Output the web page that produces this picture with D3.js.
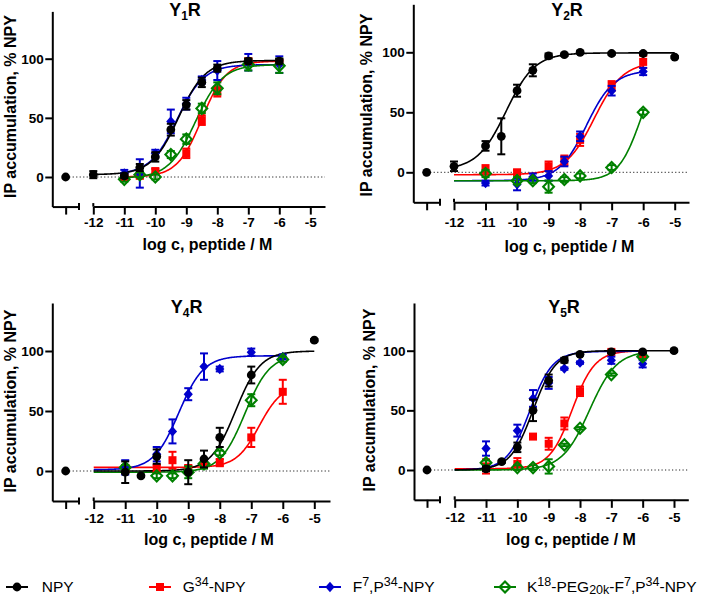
<!DOCTYPE html>
<html><head><meta charset="utf-8">
<script src="https://cdn.jsdelivr.net/npm/d3@7"></script>
<style>body{margin:0;background:#fff}svg{display:block}</style>
</head><body><svg id="chart" width="708" height="597"></svg>
<script>
// ---------- DATA ----------
const logTicks = [-12, -11, -10, -9, -8, -7, -6, -5];
const yTicks = [0, 50, 100];
const seriesNames = ["NPY", "G34-NPY", "F7,P34-NPY", "K18-PEG20k-F7,P34-NPY"];
const receptorTitles = [["Y", "1", "R"], ["Y", "2", "R"], ["Y", "4", "R"], ["Y", "5", "R"]];
const xAxisTitle = "log c, peptide / M";
const yAxisTitle = "IP accumulation, % NPY";

// points: [log c (M), % NPY, SEM] ; -13 = no peptide
const Y1R_NPY = [[-13,0,0],[-12,2,3],[-11,1,2],[-10.5,8,3],[-10,17,4],[-9.5,40,5],[-9,61,4],[-8.5,80,4],[-8,92,3],[-7,98,2],[-6,98,2]];
const Y1R_G34 = [[-11,0,2],[-10.5,1,2],[-10,5,2],[-9,20,4],[-8.5,48,4],[-8,72,4],[-7,98,2],[-6,97,2]];
const Y1R_F7  = [[-11,3,3],[-10.5,3,12],[-10,20,3],[-9.5,47,10],[-9,62,5],[-8.5,82,3],[-8,90,8],[-7,97,7],[-6,95,7]];
const Y1R_K18 = [[-11,-2,2],[-10.5,2,2],[-10,0,2],[-9.5,19,3],[-9,32,4],[-8.5,58,4],[-8,75,5],[-7,95,5],[-6,94,6]];

const Y2R_NPY = [[-13,0,0],[-12,5,4],[-11,22,4],[-10.5,30,15],[-10,68,5],[-9.5,85,5],[-9,97,2],[-8.5,98,1],[-8,100,1],[-7,99,1],[-6,99,1],[-5,96,1]];
const Y2R_G34 = [[-11,2,4],[-10,0,2],[-9,5,4],[-8.5,10,4],[-8,27,5],[-7,72,4],[-6,92,5]];
const Y2R_F7  = [[-11,-9,2],[-10,-10,5],[-9.5,-4,3],[-9,-3,4],[-8.5,9,4],[-8,30,4],[-7,68,4],[-6,84,3]];
const Y2R_K18 = [[-11,-1,3],[-10,-7,3],[-9.5,-7,2],[-9,-12,5],[-8.5,-6,2],[-8,-3,2],[-7,4,2],[-6,50,2]];

const Y4R_NPY = [[-13,0,0],[-11,-1,9],[-10.5,-4,1],[-10,12,6],[-9,-1,10],[-8.5,10,7],[-8,28,8],[-7,80,7],[-5,109,1]];
const Y4R_G34 = [[-11,2,3],[-10,2,3],[-9.5,9,7],[-9,2,3],[-8.5,5,2],[-8,7,3],[-7,28,8],[-6,66,10]];
const Y4R_F7  = [[-11,3,6],[-10,14,6],[-9.5,33,10],[-9,64,5],[-8.5,87,11],[-8,85,2],[-7,99,3],[-6,95,2]];
const Y4R_K18 = [[-11,3,2],[-10,-4,2],[-9.5,-4,2],[-9,-1,5],[-8.5,6,4],[-8,15,2],[-7,59,5],[-6,93,2]];

const Y5R_NPY = [[-13,0,0],[-11,1,2],[-10.5,7,1],[-10,19,4],[-9.5,50,9],[-9,75,5],[-8.5,92,2],[-8,97,1],[-7,99,1],[-6,99,1],[-5,100,1]];
const Y5R_G34 = [[-11,3,6],[-10,5,5],[-9.5,28,1],[-9,22,5],[-8.5,39,5],[-8,66,4],[-7,99,1],[-6,97,2]];
const Y5R_F7  = [[-11,18,6],[-10,33,5],[-9.5,60,7],[-9,73,5],[-8.5,85,1],[-8,90,1],[-7,92,3],[-6,89,3]];
const Y5R_K18 = [[-11,6,2],[-10,2,2],[-9.5,2,2],[-9,3,6],[-8.5,21,1],[-8,35,1],[-7,80,1],[-6,95,2]];

// fitted curves: [bottom, top, logEC50, Hill slope, from, to]  (order NPY, G34, F7, K18)
const Y1R_FITS = [[2,98.5,-9.25,1,-12,-6],[0,98,-8.5,1.1,-11,-6],[2,95,-9.3,1,-11,-6],[-1,95,-8.7,1,-11,-6]];
const Y2R_FITS = [[2,99.5,-10.35,0.95,-12,-5],[-2,92,-7.55,0.95,-12,-6],[-7,85,-7.8,1,-12,-6],[-7,100,-6.05,1.2,-12,-6]];
const Y4R_FITS = [[0,100,-7.5,1.1,-12,-5],[3,72,-6.75,1.2,-12,-6],[1,96,-9.3,1.1,-12,-6],[-1,97,-7.2,1.1,-12,-6]];
const Y5R_FITS = [[0,100,-9.5,1.2,-12,-5],[1,100,-8.25,1.2,-12,-6],[0,99.5,-9.6,1.2,-12,-6],[0,100,-7.7,1,-12,-6]];

const legendParts = [
  [["NPY",""]],
  [["G",""],["34","sup"],["-NPY",""]],
  [["F",""],["7","sup"],[",P",""],["34","sup"],["-NPY",""]],
  [["K",""],["18","sup"],["-PEG",""],["20k","sub"],["-F",""],["7","sup"],[",P",""],["34","sup"],["-NPY",""]]
];

// ---------- LAYOUT / STYLE ----------
const panelData = [
  {pts:[Y1R_NPY,Y1R_G34,Y1R_F7,Y1R_K18], fits:Y1R_FITS},
  {pts:[Y2R_NPY,Y2R_G34,Y2R_F7,Y2R_K18], fits:Y2R_FITS},
  {pts:[Y4R_NPY,Y4R_G34,Y4R_F7,Y4R_K18], fits:Y4R_FITS},
  {pts:[Y5R_NPY,Y5R_G34,Y5R_F7,Y5R_K18], fits:Y5R_FITS}
];
const layouts = [
  {ax:52.3, y0:177, y100:58.7, seg1End:79, x12:93.3, x5:310.3, axEnd:325, tickBase:227, xTitleX:207.5, xTitleBase:250, titleX:185, titleBase:16, yTitleX:16, yTitleY:106.5},
  {ax:413.3, y0:172.3, y100:52.3, seg1End:440, x12:454, x5:674.7, axEnd:689, tickBase:227, xTitleX:569.5, xTitleBase:252, titleX:567, titleBase:16, yTitleX:372, yTitleY:105},
  {ax:52.3, y0:471, y100:351, seg1End:79, x12:93.7, x5:314.3, axEnd:330, tickBase:522.7, xTitleX:209, xTitleBase:545, titleX:186.7, titleBase:312.7, yTitleX:15.5, yTitleY:401},
  {ax:414, y0:470, y100:350.7, seg1End:440, x12:454.7, x5:674, axEnd:688.3, tickBase:522.5, xTitleX:571, xTitleBase:545, titleX:564, titleBase:312.7, yTitleX:375, yTitleY:400}
];
const colors = ["#000000", "#ff0000", "#0000cc", "#008000"];
const drawOrder = [1, 2, 3, 0];
const FONT = "'Liberation Sans', Arial, Helvetica, sans-serif";

const svg = d3.select("#chart");

function marker(g, type, x, y) {
  const c = colors[type];
  if (type === 0) {
    g.append("circle").attr("cx", x).attr("cy", y).attr("r", 4.4).attr("fill", c);
  } else if (type === 1) {
    g.append("rect").attr("x", x - 4).attr("y", y - 4).attr("width", 8).attr("height", 8).attr("fill", c);
  } else if (type === 2) {
    g.append("path").attr("d", `M${x},${y-5.2}L${x+4.6},${y}L${x},${y+5.2}L${x-4.6},${y}Z`).attr("fill", c);
  } else {
    g.append("path").attr("d", `M${x},${y-5.6}L${x+5.4},${y}L${x},${y+5.6}L${x-5.4},${y}Z`)
      .attr("fill", "none").attr("stroke", c).attr("stroke-width", 2.1);
  }
}

function addRich(textSel, parts, baseSize, smallSize, supShift, subShift) {
  let shift = 0;
  parts.forEach(([t, kind]) => {
    const target = kind === "sup" ? -supShift : kind === "sub" ? subShift : 0;
    textSel.append("tspan").attr("dy", target - shift)
      .attr("font-size", kind ? smallSize : baseSize).text(t);
    shift = target;
  });
}

panelData.forEach((pd, pi) => {
  const L = layouts[pi];
  const k = (L.y0 - L.y100) / 100;
  const y = d3.scaleLinear().domain([-25, 140]).range([L.y0 + 25 * k, L.y0 - 140 * k]);
  const axisY = y(-25);
  const xMain = d3.scaleLinear().domain([-12, -5]).range([L.x12, L.x5]);
  const xSeg1 = d3.scaleLinear().domain([-13.5, -12.5]).range([L.ax, L.seg1End]);
  const xPos = v => v < -12.5 ? xSeg1(v) : xMain(v);
  const g = svg.append("g");

  // y axis
  const ya = g.append("g").attr("transform", `translate(${L.ax},0)`)
    .call(d3.axisLeft(y).tickValues(yTicks).tickSize(7).tickSizeOuter(0).tickPadding(1.5));
  // x axis: first segment (no-peptide control)
  const xa1 = g.append("g").attr("transform", `translate(0,${axisY})`)
    .call(d3.axisBottom(xSeg1).tickValues([-13]).tickFormat("").tickSize(8).tickSizeOuter(0));
  // x axis: main segment
  const xMainExt = d3.scaleLinear().domain([-12, xMain.invert(L.axEnd)]).range([L.x12, L.axEnd]);
  const xa2 = g.append("g").attr("transform", `translate(0,${axisY})`)
    .call(d3.axisBottom(xMainExt).tickValues(logTicks).tickFormat(d3.format("d")).tickSize(8).tickSizeOuter(0));
  [ya, xa1, xa2].forEach(a => {
    a.attr("font-family", FONT).attr("font-size", 13.5).attr("font-weight", "bold");
    a.selectAll("path.domain").attr("stroke", "#000").attr("stroke-width", 2);
    a.selectAll(".tick line").attr("stroke", "#000").attr("stroke-width", 2);
    a.selectAll("text").attr("fill", "#000");
  });
  xa2.selectAll(".tick text").attr("dy", null).attr("y", L.tickBase - axisY)
    .text(d => d3.format("d")(d).replace("\u2212", "-"));
  ya.selectAll(".tick text").text(d => String(d));
  // break caps
  g.append("line").attr("x1", L.seg1End).attr("x2", L.seg1End).attr("y1", axisY - 3.5).attr("y2", axisY + 3.5)
    .attr("stroke", "#000").attr("stroke-width", 2);
  g.append("line").attr("x1", L.x12).attr("x2", L.x12).attr("y1", axisY - 3.5).attr("y2", axisY)
    .attr("stroke", "#000").attr("stroke-width", 2);

  // zero line
  g.append("line").attr("x1", xSeg1(-13)).attr("x2", L.axEnd).attr("y1", y(0)).attr("y2", y(0))
    .attr("stroke", "#222").attr("stroke-width", 1).attr("stroke-dasharray", "1.2,2.3");

  // fitted curves
  const line = d3.line().x(d => xMain(d[0])).y(d => y(d[1]));
  drawOrder.forEach(si => {
    const [bot, top, ec, h, from, to] = pd.fits[si];
    const pts = d3.range(from, to + 0.0001, 0.02).map(v => [v, bot + (top - bot) / (1 + Math.pow(10, (ec - v) * h))]);
    g.append("path").attr("d", line(pts)).attr("fill", "none").attr("stroke", colors[si]).attr("stroke-width", 1.6);
  });

  // error bars + markers
  drawOrder.forEach(si => {
    const sg = g.append("g");
    pd.pts[si].forEach(([lx, v, e]) => {
      const px = xPos(lx), py = y(v);
      if (e > 0) {
        const eb = sg.append("g").attr("stroke", colors[si]).attr("stroke-width", 2);
        eb.append("line").attr("x1", px).attr("x2", px).attr("y1", y(v + e)).attr("y2", y(v - e));
        eb.append("line").attr("x1", px - 4).attr("x2", px + 4).attr("y1", y(v + e)).attr("y2", y(v + e));
        eb.append("line").attr("x1", px - 4).attr("x2", px + 4).attr("y1", y(v - e)).attr("y2", y(v - e));
      }
      marker(sg, si, px, py);
    });
  });

  // titles
  const t = g.append("text").attr("x", L.titleX).attr("y", L.titleBase).attr("text-anchor", "middle")
    .attr("font-family", FONT).attr("font-weight", "bold").attr("font-size", 18);
  const rt = receptorTitles[pi];
  addRich(t, [[rt[0], ""], [rt[1], "sub"], [rt[2], ""]], 18, 12, 6, 4);
  g.append("text").attr("x", L.xTitleX).attr("y", L.xTitleBase).attr("text-anchor", "middle")
    .attr("font-family", FONT).attr("font-weight", "bold").attr("font-size", 16).text(xAxisTitle);
  g.append("text").attr("transform", `translate(${L.yTitleX},${L.yTitleY}) rotate(-90)`).attr("text-anchor", "middle")
    .attr("font-family", FONT).attr("font-weight", "bold").attr("font-size", 16).text(yAxisTitle);
});

// legend
const legendX = [17, 160, 330, 505];
const legendTextX = [41.7, 182.7, 352.7, 527];
const legY = 587;
seriesNames.forEach((name, si) => {
  const lg = svg.append("g");
  lg.append("line").attr("x1", legendX[si] - 11).attr("x2", legendX[si] + 11).attr("y1", legY).attr("y2", legY)
    .attr("stroke", colors[si]).attr("stroke-width", 2);
  marker(lg, si, legendX[si], legY);
  const tx = lg.append("text").attr("x", legendTextX[si]).attr("y", legY + 4.5)
    .attr("font-family", FONT).attr("font-size", 15.5).attr("fill", "#000").attr("data-name", name);
  addRich(tx, legendParts[si], 15.5, 12.5, 6, 2.5);
});
</script>
</body></html>
